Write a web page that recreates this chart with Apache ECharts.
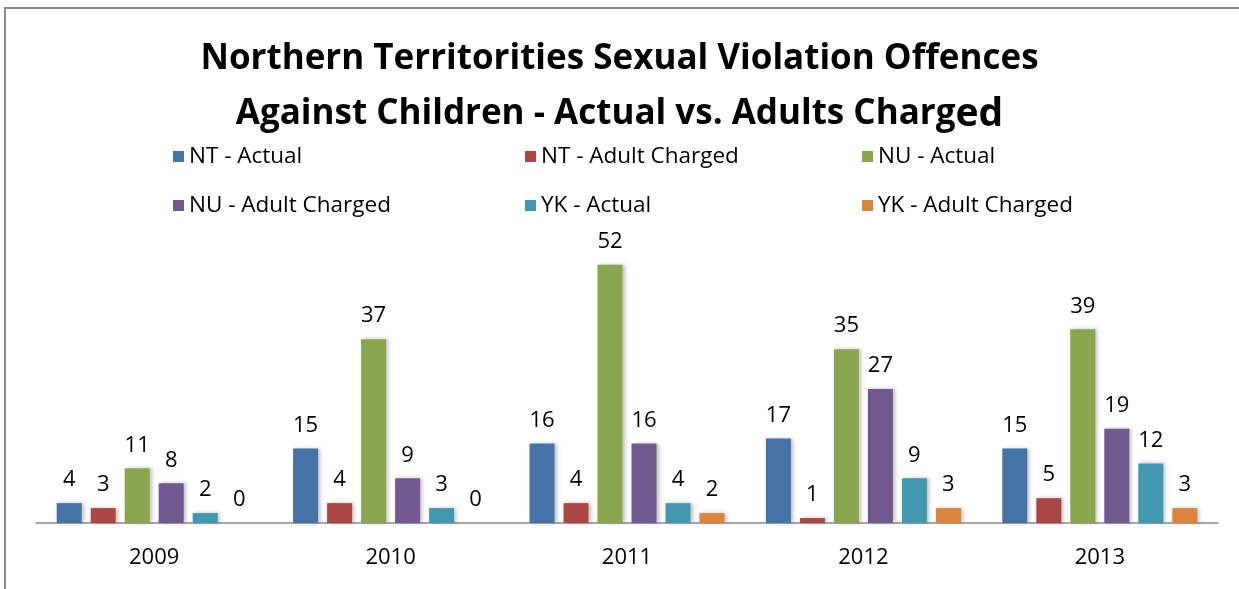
<!DOCTYPE html>
<html>
<head>
<meta charset="utf-8">
<script src="https://cdn.jsdelivr.net/npm/echarts@6/dist/echarts.min.js"></script>
<style>
  html, body { margin: 0; padding: 0; background: #fff; }
  #chart { width: 1239px; height: 589px; }
</style>
</head>
<body>
<div id="chart"></div>
<script>
// data
var years = ["2009", "2010", "2011", "2012", "2013"];
var seriesNames = ["NT - Actual", "NT - Adult Charged", "NU - Actual", "NU - Adult Charged", "YK - Actual", "YK - Adult Charged"];
var ntActual = [4, 15, 16, 17, 15];
var ntCharged = [3, 4, 4, 1, 5];
var nuActual = [11, 37, 52, 35, 39];
var nuCharged = [8, 9, 16, 27, 19];
var ykActual = [2, 3, 4, 9, 12];
var ykCharged = [0, 0, 2, 3, 3];
var seriesData = [ntActual, ntCharged, nuActual, nuCharged, ykActual, ykCharged];
var colors = ["#4572A7", "#AA4643", "#89A54E", "#71588F", "#4198AF", "#DB843D"];

var fontFam = "'Open Sans', Lato, sans-serif";

var myChart = echarts.init(document.getElementById("chart"));

// one legend per column, two rows each
function legendCol(left, names) {
  return {
    orient: "vertical",
    left: left,
    top: 140,
    itemGap: 26,
    itemWidth: 11,
    itemHeight: 11,
    icon: "rect",
    data: names,
    textStyle: { fontFamily: fontFam, fontSize: 22.5, color: "#000" },
    selectedMode: false
  };
}

var option = {
  color: colors,
  animation: false,
  title: {
    text: "Northern Territorities Sexual Violation Offences\nAgainst Children - Actual vs. Adults Charg{big|ed}",
    left: "center",
    top: 27,
    textStyle: {
      fontFamily: fontFam,
      fontSize: 35,
      fontWeight: "bold",
      color: "#000",
      lineHeight: 55,
      rich: {
        big: { fontFamily: fontFam, fontSize: 39, fontWeight: "bold", color: "#000" }
      }
    }
  },
  legend: [
    legendCol(168, [seriesNames[0], seriesNames[3]]),
    legendCol(520, [seriesNames[1], seriesNames[4]]),
    legendCol(857, [seriesNames[2], seriesNames[5]])
  ],
  graphic: [{
    type: "rect",
    shape: { x: 5, y: 8, width: 1400, height: 800 },
    style: { fill: "none", stroke: "#8c8c8c", lineWidth: 2 },
    silent: true
  }],
  grid: { left: 36, right: 21, top: 225, bottom: 66 },
  xAxis: {
    type: "category",
    data: years,
    axisTick: { show: false },
    axisLine: { lineStyle: { color: "#8c8c8c", width: 1.5 } },
    axisLabel: { fontFamily: fontFam, fontSize: 22, color: "#000", margin: 24 }
  },
  yAxis: {
    type: "value",
    min: 0,
    max: 60,
    show: false,
    splitLine: { show: false }
  },
  series: seriesData.map(function (d, i) {
    return {
      name: seriesNames[i],
      type: "bar",
      data: d,
      barWidth: 25,
      barGap: "36%",
      itemStyle: {
        shadowColor: "rgba(0,0,0,0.25)",
        shadowBlur: 4,
        shadowOffsetX: 2,
        shadowOffsetY: 0
      },
      label: {
        show: true,
        position: "top",
        distance: 12,
        fontFamily: fontFam,
        fontSize: 22,
        color: "#000"
      }
    };
  })
};

myChart.setOption(option);
</script>
</body>
</html>
